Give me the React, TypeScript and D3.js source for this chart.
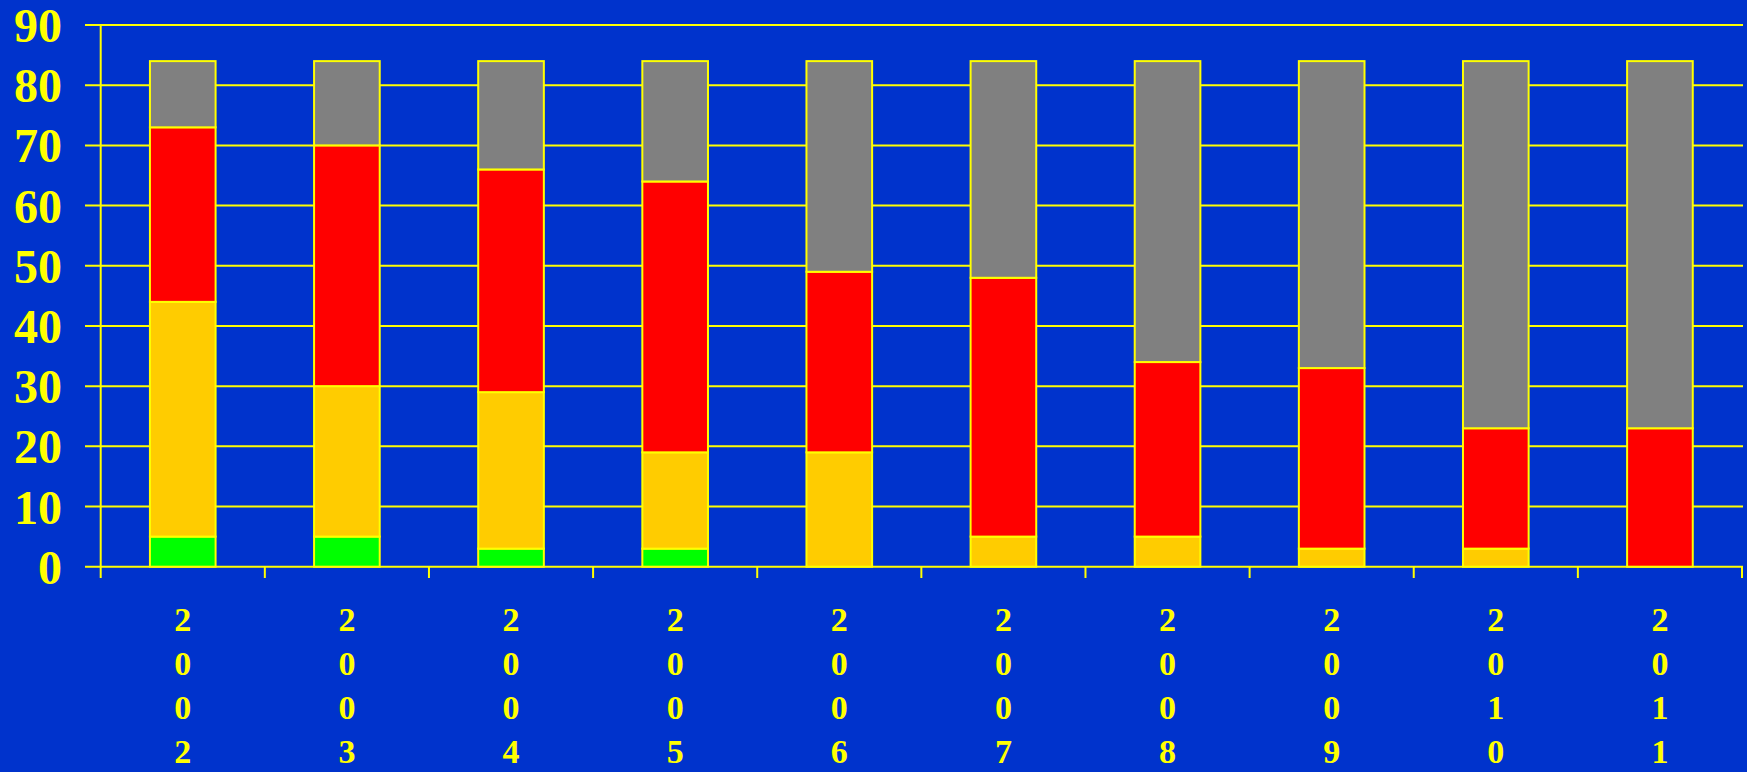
import React from 'react';
import * as d3 from 'd3';

const years = ['2002', '2003', '2004', '2005', '2006', '2007', '2008', '2009', '2010', '2011'];
const green = [5, 5, 3, 3, 0, 0, 0, 0, 0, 0];
const amber = [39, 25, 26, 16, 19, 5, 5, 3, 3, 0];
const red = [29, 40, 37, 45, 30, 43, 29, 30, 20, 23];
const grey = [11, 14, 18, 20, 35, 36, 50, 51, 61, 61];
const yTicks = [0, 10, 20, 30, 40, 50, 60, 70, 80, 90];

const seriesKeys = ['green', 'amber', 'red', 'grey'];
const colors: any = { green: '#00ff00', amber: '#ffcc00', red: '#ff0000', grey: '#808080' };

const W = 1747, H = 772;
const YEL = '#ffff00';

function App() {
  const rows = years.map((y, i) => ({ year: y, green: green[i], amber: amber[i], red: red[i], grey: grey[i] }));
  const stack = d3.stack<any>().keys(seriesKeys)(rows);

  const x = d3.scaleBand().domain(years).range([100.7, 1742]).paddingInner(0.6).paddingOuter(0.3);
  const band = d3.scaleBand().domain(years).range([100.7, 1742]);
  const y = d3.scaleLinear().domain([0, 90]).range([566.7, 25]);

  return (
    <svg width={W} height={H} style={{ position: 'absolute', left: 0, top: 0, display: 'block' }}>
      <rect width={W} height={H} fill="#0033cc" />
      {yTicks.map((t) => (
        <g key={t}>
          <line x1={85} x2={1743} y1={y(t)} y2={y(t)} stroke={YEL} strokeWidth={2} />
          <text x={62} y={y(t) + 17} textAnchor="end" fill={YEL}
            style={{ font: 'bold 48px "Liberation Serif", "Times New Roman", serif' }}>{t}</text>
        </g>
      ))}
      <line x1={100.7} x2={100.7} y1={25} y2={578} stroke={YEL} strokeWidth={2} />
      {years.map((yr) => (
        <line key={'t' + yr} x1={(band(yr) as number) + band.bandwidth()} x2={(band(yr) as number) + band.bandwidth()}
          y1={566.7} y2={578} stroke={YEL} strokeWidth={2} />
      ))}
      {stack.map((s: any) => (
        <g key={s.key}>
          {s.map((d: any, i: number) => d[1] - d[0] > 0 ? (
            <rect key={i} x={x(years[i])} width={x.bandwidth()} y={y(d[1])} height={y(d[0]) - y(d[1])}
              fill={colors[s.key]} stroke={YEL} strokeWidth={2} />
          ) : null)}
        </g>
      ))}
      {years.map((yr) => (
        <text key={'l' + yr} fill={YEL} textAnchor="middle"
          style={{ font: 'bold 34px "Liberation Serif", "Times New Roman", serif' }}>
          {yr.split('').map((c, j) => (
            <tspan key={j} x={(band(yr) as number) + band.bandwidth() / 2} y={631 + j * 44}>{c}</tspan>
          ))}
        </text>
      ))}
    </svg>
  );
}

export default App;
